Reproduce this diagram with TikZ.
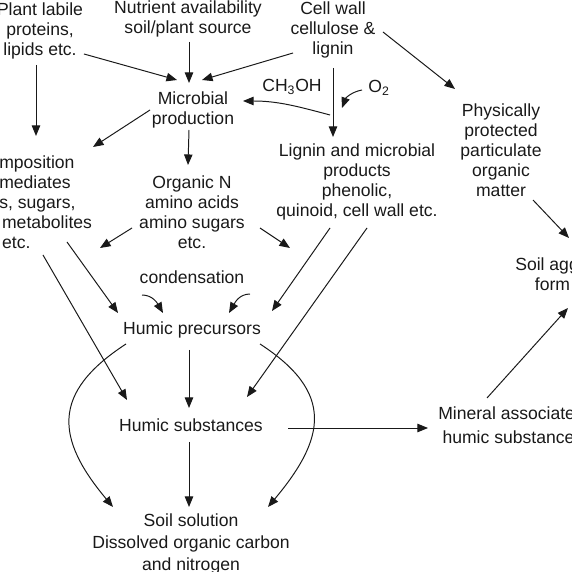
\documentclass[tikz,border=0pt]{standalone}
\usepackage{fontspec}
\setmainfont{Liberation Sans}
\usepackage{xcolor}
\usepackage{tikz}
\usetikzlibrary{arrows.meta, calc}
\definecolor{SoilInk}{RGB}{25, 25, 25}

\begin{document}
\begin{tikzpicture}[x=0.025cm, y=0.025cm,
    every node/.style={inner sep=0pt, text=SoilInk,
      font=\fontsize{12.5}{14.2}\selectfont},
    txt/.style={align=center},
    flow/.style={draw=SoilInk, line width=0.7pt,
      -{Triangle[length=7.5pt, width=6pt]}},
    link/.style={draw=SoilInk, line width=0.7pt}]
    \useasboundingbox (0,0) rectangle (572,572);

    % sources
    \node[txt] (plant) at (40,541) {Plant labile\\proteins,\\lipids etc.};
    \node[txt] (nutr) at (188,553) {Nutrient availability\\soil/plant source};
    \node[txt] (cell) at (333,542) {Cell wall\\cellulose \&\\lignin};

    % middle row
    \node[txt] (micro) at (193,462) {Microbial\\production};
    \node (ch3oh) at (292,485) {CH\textsubscript{3}OH};
    \node (otwo) at (379,484) {O\textsubscript{2}};
    \node[txt] (lignin) at (357,390) {Lignin and microbial\\products\\phenolic,\\quinoid, cell wall etc.};
    \node[txt] (phys) at (501,422) {Physically\\protected\\particulate\\organic\\matter};
    \node[align=left, anchor=west] (decomp) at (-1,370)
      {mposition\\mediates\\s, sugars,\\\hspace*{2pt}metabolites\\\hspace*{2pt}etc.};
    \node[txt] (orgn) at (192,360) {Organic N\\amino acids\\amino sugars\\etc.};

    % humus
    \node (cond) at (192,295) {condensation};
    \node (hprec) at (192,242) {Humic precursors};
    \node (hsub) at (191,147) {Humic substances};
    \node[align=left, anchor=west] (miner) at (438,147)
      {Mineral associate\\[3pt]\hspace*{3pt}humic substance};
    \node[align=left, anchor=west] (agg) at (515,298) {Soil agg\\\hspace*{14pt}form};
    \node[txt] (soilsol) at (191,28)
      {Soil solution\\[1.5pt]Dissolved organic carbon\\[1pt]and nitrogen};

    % connectors
    \draw[flow] ($(plant)+(44,-23)$) -- ($(micro)+(-16,30)$);
    \draw[flow] ($(nutr)+(1,-23)$) -- ($(micro)+(-4,27)$);
    \draw[flow] ($(cell)+(-40,-23)$) -- ($(micro)+(9,30)$);
    \draw[flow] ($(plant)+(-4,-34)$) -- ($(decomp.west)+(37,66)$);
    \draw[flow] ($(micro)+(-43,0)$) -- ($(decomp.west)+(94,55)$);
    \draw[flow] ($(micro)+(-4,-20)$) -- ($(orgn)+(-4,47)$);
    \draw[flow] ($(cell)+(0,-38)$) -- ($(lignin)+(-24,45)$);
    \draw[flow] ($(lignin)+(-27,67)$) to[out=165, in=0] ($(micro)+(50,9)$);
    \draw[flow] ($(otwo)+(-17,-2)$) to[out=190, in=70] ($(lignin)+(-15,74)$);
    \draw[flow] ($(cell)+(50,-2)$) -- ($(phys)+(-46,61)$);
    \draw[flow] ($(phys)+(32,-50)$) -- ($(agg.west)+(54,36)$);
    \draw[flow] ($(orgn)+(-60,-16)$) -- ($(decomp.west)+(101,-46)$);
    \draw[flow] ($(orgn)+(68,-16)$) -- ($(lignin)+(-67,-66)$);
    \draw[flow] ($(lignin)+(-27,-46)$) -- ($(hprec)+(80,19)$);
    \draw[flow] ($(lignin)+(10,-46)$) -- ($(hsub)+(56,28)$);
    \draw[flow] ($(decomp.west)+(68,-40)$) -- ($(hprec)+(-74,17)$);
    \draw[flow] ($(decomp.west)+(44,-53)$) -- ($(hsub)+(-64,25)$);
    \draw[flow] ($(cond)+(-50,-18)$) to[out=0, in=120] ($(hprec)+(-29,17)$);
    \draw[flow] ($(cond)+(58,-17)$) to[out=180, in=60] ($(hprec)+(37,17)$);
    \draw[flow] ($(hprec)+(-3,-20)$) -- ($(hsub)+(-2,17)$);
    \draw[flow] ($(hprec)+(-66,-14)$) to[out=213, in=130, looseness=1.4] ($(soilsol)+(-78,37)$);
    \draw[flow] ($(hprec)+(68,-14)$) to[out=-33, in=50, looseness=1.4] ($(soilsol)+(77,37)$);
    \draw[flow] ($(hsub)+(-2,-17)$) -- ($(soilsol)+(-2,37)$);
    \draw[flow] ($(hsub)+(97,-3)$) -- ($(miner.west)+(-10,-3)$);
    \draw[flow] ($(miner.west)+(49,27)$) -- ($(agg.west)+(53,-34)$);
  \end{tikzpicture}
\end{document}
